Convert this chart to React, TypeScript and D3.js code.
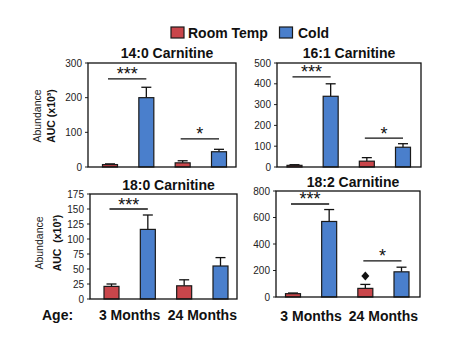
import React from 'react';
import * as d3 from 'd3';

const groups = ['3 Months', '24 Months'];
const conditions = ['Room Temp', 'Cold'];
const barKeys = ['RT-3', 'Cold-3', 'RT-24', 'Cold-24'];
const titles = ['14:0 Carnitine', '16:1 Carnitine', '18:0 Carnitine', '18:2 Carnitine'];

const c140Mean = [7, 200, 12, 44];
const c140Sem = [2, 30, 6, 7];
const c161Mean = [8, 340, 28, 95];
const c161Sem = [3, 60, 17, 17];
const c180Mean = [21, 116, 22, 55];
const c180Sem = [4, 24, 10, 14];
const c182Mean = [25, 570, 65, 190];
const c182Sem = [5, 90, 30, 35];

const yMax = [300, 500, 175, 800];
const yStep = [100, 100, 25, 200];

const sig140 = [{ a: 0, b: 1, level: 254, label: '***' }, { a: 2, b: 3, level: 81, label: '*' }];
const sig161 = [{ a: 0, b: 1, level: 433, label: '***' }, { a: 2, b: 3, level: 139, label: '*' }];
const sig180 = [{ a: 0, b: 1, level: 150, label: '***' }];
const sig182 = [{ a: 0, b: 1, level: 702, label: '***' }, { a: 2, b: 3, level: 272, label: '*' }];
const diamond182 = [{ bar: 2, level: 158 }];

const RED = '#c9464b';
const BLUE = '#4a7fcc';
const FONT = '"Liberation Sans", Arial, sans-serif';

const layouts = [
  { x0: 88, x1: 236, y0: 63, y1: 167, padL: 22, padR: 17, titleY: 58, titleDx: 5 },
  { x0: 277, x1: 421, y0: 63, y1: 167, padL: 17.5, padR: 18, titleY: 58, titleDx: 0 },
  { x0: 90, x1: 237, y0: 194, y1: 299, padL: 21.5, padR: 16.5, titleY: 190, titleDx: 5 },
  { x0: 276, x1: 420, y0: 191, y1: 297, padL: 17, padR: 18.5, titleY: 187, titleDx: 5 },
];

const panels = [
  { mean: c140Mean, sem: c140Sem, sig: sig140, marks: [] as { bar: number; level: number }[] },
  { mean: c161Mean, sem: c161Sem, sig: sig161, marks: [] as { bar: number; level: number }[] },
  { mean: c180Mean, sem: c180Sem, sig: sig180, marks: [] as { bar: number; level: number }[] },
  { mean: c182Mean, sem: c182Sem, sig: sig182, marks: diamond182 },
];

function Panel({ i }: { i: number }) {
  const L = layouts[i];
  const P = panels[i];
  const x = d3.scalePoint<string>().domain(barKeys).range([L.x0 + L.padL, L.x1 - L.padR]);
  const y = d3.scaleLinear().domain([0, yMax[i]]).range([L.y1, L.y0]);
  const ticks = d3.range(0, yMax[i] + 1e-9, yStep[i]);
  const bw = 15;
  const capW = 10;
  return (
    <g>
      <text x={(L.x0 + L.x1) / 2 + L.titleDx} y={L.titleY} textAnchor="middle" fontFamily={FONT} fontWeight="bold" fontSize={14} fill="#111">
        {titles[i]}
      </text>
      {ticks.map((t) => (
        <g key={t}>
          <line x1={L.x0 - 3} x2={L.x0} y1={y(t)} y2={y(t)} stroke="#222" strokeWidth={1} />
          <text x={L.x0 - 6} y={y(t)} dy="0.35em" textAnchor="end" fontFamily={FONT} fontSize={10} fill="#222">
            {t}
          </text>
        </g>
      ))}
      {P.mean.map((m, j) => {
        const cx = x(barKeys[j])!;
        const top = y(m + P.sem[j]);
        return (
          <g key={j}>
            <line x1={cx} x2={cx} y1={y(m)} y2={top} stroke="#111" strokeWidth={1.3} />
            <line x1={cx - capW / 2} x2={cx + capW / 2} y1={top} y2={top} stroke="#111" strokeWidth={1.3} />
            <rect x={cx - bw / 2} y={y(m)} width={bw} height={y(0) - y(m)} fill={j % 2 === 0 ? RED : BLUE} stroke="#1a1a1a" strokeWidth={1.2} />
          </g>
        );
      })}
      {P.sig.map((s, k) => {
        const xa = x(barKeys[s.a])! - 2;
        const xb = x(barKeys[s.b])! + 0;
        const ly = y(s.level);
        return (
          <g key={k}>
            <line x1={xa} x2={xb} y1={ly} y2={ly} stroke="#111" strokeWidth={1.3} />
            <text x={(xa + xb) / 2} y={ly + 1.5} textAnchor="middle" fontFamily={FONT} fontSize={18} fill="#111">
              {s.label}
            </text>
          </g>
        );
      })}
      {P.marks.map((d, k) => {
        const cx = x(barKeys[d.bar])!;
        const cy = y(d.level);
        return <path key={k} d={`M${cx},${cy - 4.5}L${cx + 4},${cy}L${cx},${cy + 4.5}L${cx - 4},${cy}Z`} fill="#111" />;
      })}
      <rect x={L.x0} y={L.y0} width={L.x1 - L.x0} height={L.y1 - L.y0} fill="none" stroke="#111" strokeWidth={1.3} />
    </g>
  );
}

export default function App() {
  const groupCenters = (i: number) => {
    const L = layouts[i];
    const x = d3.scalePoint<string>().domain(barKeys).range([L.x0 + L.padL, L.x1 - L.padR]);
    return groups.map((g, k) => ({ g, cx: (x(barKeys[2 * k])! + x(barKeys[2 * k + 1])!) / 2 }));
  };
  return (
    <svg width={460} height={350} style={{ position: 'absolute', left: 0, top: 0, background: '#fff' }}>
      <rect width={460} height={350} fill="#fff" />
      {/* legend */}
      <rect x={171} y={27} width={13} height={11} fill={RED} stroke="#1a1a1a" strokeWidth={1.2} />
      <text x={188} y={38} fontFamily={FONT} fontWeight="bold" fontSize={14} fill="#111">{conditions[0]}</text>
      <rect x={279.5} y={27} width={13} height={11} fill={BLUE} stroke="#1a1a1a" strokeWidth={1.2} />
      <text x={298} y={38} fontFamily={FONT} fontWeight="bold" fontSize={14} fill="#111">{conditions[1]}</text>

      {/* y labels */}
      <g transform="translate(41,116) rotate(-90)">
        <text textAnchor="middle" fontFamily={FONT} fontSize={10.5} fill="#222">Abundance</text>
      </g>
      <g transform="translate(55,116) rotate(-90)">
        <text textAnchor="middle" fontFamily={FONT} fontWeight="bold" fontSize={10.5} fill="#111">AUC (x10³)</text>
      </g>
      <g transform="translate(43,243) rotate(-90)">
        <text textAnchor="middle" fontFamily={FONT} fontSize={10.5} fill="#222">Abundance</text>
      </g>
      <g transform="translate(61,243) rotate(-90)">
        <text textAnchor="middle" fontFamily={FONT} fontWeight="bold" fontSize={10.5} fill="#111" xmlSpace="preserve">AUC  (x10³)</text>
      </g>

      {[0, 1, 2, 3].map((i) => <Panel key={i} i={i} />)}

      <text x={42} y={320} fontFamily={FONT} fontWeight="bold" fontSize={14} fill="#111">Age:</text>
      {[2, 3].map((i) =>
        groupCenters(i).map((d) => (
          <text key={`${i}-${d.g}`} x={d.cx} y={i === 2 ? 320 : 321} textAnchor="middle" fontFamily={FONT} fontWeight="bold" fontSize={14} fill="#111">
            {d.g}
          </text>
        ))
      )}
    </svg>
  );
}
